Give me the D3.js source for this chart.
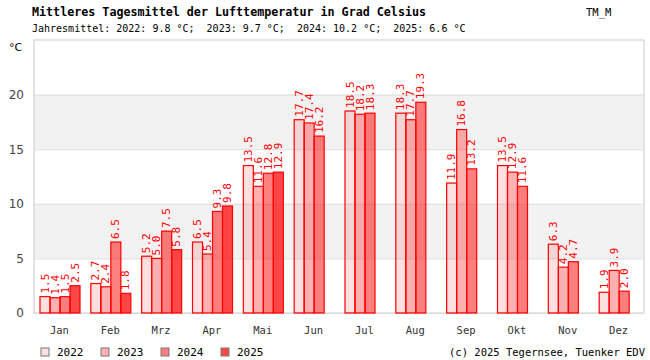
<!DOCTYPE html>
<html>
<head>
<meta charset="utf-8">
<script src="https://cdn.jsdelivr.net/npm/d3@7"></script>
<style>
  body { margin: 0; background: #fff; }
  svg { display: block; }
</style>
</head>
<body>
<div id="main"></div>
<script>
// data
var months = ["Jan", "Feb", "Mrz", "Apr", "Mai", "Jun", "Jul", "Aug", "Sep", "Okt", "Nov", "Dez"];
var years = ["2022", "2023", "2024", "2025"];
var t2022 = [1.5, 2.7, 5.2, 6.5, 13.5, 17.7, 18.5, 18.3, 11.9, 13.5, 6.3, 1.9];
var t2023 = [1.4, 2.4, 5.0, 5.4, 11.6, 17.4, 18.2, 17.7, 16.8, 12.9, 4.2, 3.9];
var t2024 = [1.5, 6.5, 7.5, 9.3, 12.8, 16.2, 18.3, 19.3, 13.2, 11.6, 4.7, 2.0];
var t2025 = [2.5, 1.8, 5.8, 9.8, 12.9, null, null, null, null, null, null, null];
var yearMeans = ["9.8", "9.7", "10.2", "6.6"];
var yTicks = [0, 5, 10, 15, 20];

var series = [t2022, t2023, t2024, t2025];
var opac = [0.12, 0.31, 0.5, 0.72];

var W = 650, H = 360;
var pL = 34, pR = 644, pT = 40, pB = 313;

var svg = d3.select("#main").append("svg")
  .attr("width", W)
  .attr("height", H);

var x = d3.scaleBand().domain(months).range([pL, pR]);
var xi = d3.scaleBand().domain(years).range([6, 46]);
var y = d3.scaleLinear().domain([0, 25]).range([pB, pT]);

// bands
var bands = [[5, 10], [15, 20]];
svg.selectAll("rect.band").data(bands).enter().append("rect")
  .attr("class", "band")
  .attr("x", pL).attr("width", pR - pL)
  .attr("y", function(d) { return y(d[1]); })
  .attr("height", function(d) { return y(d[0]) - y(d[1]); })
  .attr("fill", "#f2f2f2");

var yAxis = d3.axisLeft(y).tickValues(yTicks).tickSize(-(pR - pL)).tickPadding(10);
var ga = svg.append("g").attr("transform", "translate(" + pL + ",0)").call(yAxis);
ga.select(".domain").remove();
ga.selectAll(".tick line").attr("stroke", "#dcdcdc");
ga.selectAll(".tick text").attr("fill", "#444").style("font-family", "DejaVu Sans").style("font-size", "12px");

svg.append("rect")
  .attr("x", pL).attr("y", pT)
  .attr("width", pR - pL).attr("height", pB - pT)
  .attr("fill", "none").attr("stroke", "#dcdcdc").attr("stroke-width", 1.5);

// bars
var flat = [];
series.forEach(function(s, k) {
  s.forEach(function(v, i) {
    if (v != null) flat.push({ m: months[i], yr: years[k], k: k, v: v });
  });
});

svg.selectAll("rect.bar").data(flat).enter().append("rect")
  .attr("class", "bar")
  .attr("x", function(d) { return x(d.m) + xi(d.yr); })
  .attr("width", xi.bandwidth())
  .attr("y", function(d) { return y(d.v); })
  .attr("height", function(d) { return y(0) - y(d.v); })
  .attr("fill", "red")
  .attr("fill-opacity", function(d) { return opac[d.k]; })
  .attr("stroke", "red")
  .attr("stroke-width", 1.2);

svg.selectAll("text.val").data(flat).enter().append("text")
  .attr("class", "val")
  .attr("transform", function(d) {
    var tx = x(d.m) + xi(d.yr) + 8.5, ty = y(d.v) - 3;
    return "translate(" + tx + "," + ty + ") rotate(-90)";
  })
  .attr("fill", "red")
  .style("font-family", "DejaVu Sans Mono")
  .style("font-size", "11px")
  .text(function(d) { return d3.format(".1f")(d.v); });

// x labels
svg.selectAll("text.mon").data(months).enter().append("text")
  .attr("class", "mon")
  .attr("x", function(d) { return x(d) + x.bandwidth() / 2; })
  .attr("y", 334)
  .attr("text-anchor", "middle")
  .attr("fill", "#333")
  .style("font-family", "DejaVu Sans Mono")
  .style("font-size", "10.5px")
  .text(function(d) { return d; });

// titles
svg.append("text").attr("x", 32).attr("y", 16)
  .style("font-family", "DejaVu Sans Mono").style("font-weight", "bold").style("font-size", "11.7px")
  .attr("fill", "#000")
  .text("Mittleres Tagesmittel der Lufttemperatur in Grad Celsius");

var sub = "Jahresmittel: " + years.map(function(yr, k) { return yr + ": " + yearMeans[k] + " °C"; }).join(";  ");
svg.append("text").attr("x", 32).attr("y", 32)
  .style("font-family", "DejaVu Sans Mono").style("font-size", "10px")
  .attr("fill", "#000").attr("xml:space", "preserve").style("white-space", "pre")
  .text(sub);

svg.append("text").attr("x", 586).attr("y", 16)
  .style("font-family", "DejaVu Sans Mono").style("font-size", "10.5px")
  .attr("fill", "#000").text("TM_M");

svg.append("text").attr("x", 9).attr("y", 51)
  .style("font-family", "DejaVu Sans").style("font-size", "11px")
  .attr("fill", "#000").text("°C");

// legend
var lg = svg.selectAll("g.leg").data(years).enter().append("g")
  .attr("class", "leg")
  .attr("transform", function(d, k) { return "translate(" + (41 + k * 60) + ",348)"; });
lg.append("rect").attr("width", 8).attr("height", 8)
  .attr("fill", "red").attr("fill-opacity", function(d, k) { return opac[k]; })
  .attr("stroke", "#777").attr("stroke-width", 1);
lg.append("text").attr("x", 16).attr("y", 8)
  .style("font-family", "DejaVu Sans Mono").style("font-size", "11px")
  .attr("fill", "#000").text(function(d) { return d; });

svg.append("text").attr("x", 645).attr("y", 356).attr("text-anchor", "end")
  .style("font-family", "DejaVu Sans Mono").style("font-size", "10.5px")
  .attr("fill", "#000").text("(c) 2025 Tegernsee, Tuenker EDV");
</script>
</body>
</html>
